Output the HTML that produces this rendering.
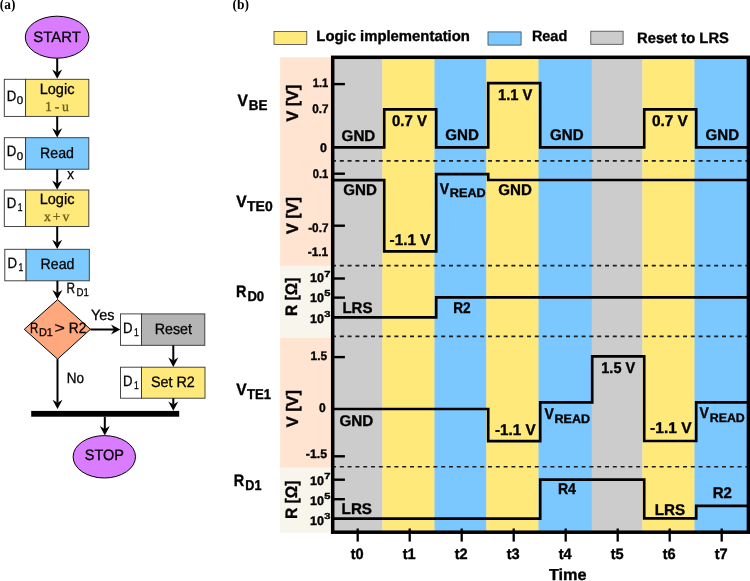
<!DOCTYPE html>
<html lang="en"><head><meta charset="utf-8"><title>Figure</title>
<style>html,body{margin:0;padding:0;background:#fff;}svg{display:block;}text{white-space:pre;text-rendering:geometricPrecision;}</style></head>
<body><svg width="750" height="581" viewBox="0 0 750 581">
<rect width="750" height="581" fill="#fff"/>
<rect x="280.10" y="57.30" width="52.90" height="208.60" fill="#ffe5d1"/>
<rect x="280.10" y="265.90" width="52.90" height="71.90" fill="#f7f5ec"/>
<rect x="280.10" y="337.80" width="52.90" height="130.00" fill="#ffe5d1"/>
<rect x="280.10" y="467.80" width="52.90" height="65.00" fill="#f7f5ec"/>
<rect x="332.00" y="57.00" width="50.60" height="476.00" fill="#cccccc"/>
<rect x="382.30" y="57.00" width="52.50" height="476.00" fill="#ffe97a"/>
<rect x="434.50" y="57.00" width="52.10" height="476.00" fill="#7ac8ff"/>
<rect x="486.30" y="57.00" width="52.50" height="476.00" fill="#ffe97a"/>
<rect x="538.50" y="57.00" width="53.50" height="476.00" fill="#7ac8ff"/>
<rect x="591.70" y="57.00" width="51.00" height="476.00" fill="#cccccc"/>
<rect x="642.40" y="57.00" width="52.40" height="476.00" fill="#ffe97a"/>
<rect x="694.50" y="57.00" width="54.80" height="476.00" fill="#7ac8ff"/>
<path d="M332.00 160.90 L748.00 160.90" fill="none" stroke="#1e1e1e" stroke-width="1.6" stroke-linejoin="miter" stroke-linecap="butt" stroke-dasharray="4 3.8"/>
<path d="M332.00 265.60 L748.00 265.60" fill="none" stroke="#1e1e1e" stroke-width="1.6" stroke-linejoin="miter" stroke-linecap="butt" stroke-dasharray="4 3.8"/>
<path d="M332.00 336.40 L748.00 336.40" fill="none" stroke="#1e1e1e" stroke-width="1.6" stroke-linejoin="miter" stroke-linecap="butt" stroke-dasharray="4 3.8"/>
<path d="M332.00 466.80 L748.00 466.80" fill="none" stroke="#1e1e1e" stroke-width="1.6" stroke-linejoin="miter" stroke-linecap="butt" stroke-dasharray="4 3.8"/>
<path d="M334.00 147.40 L384.20 147.40 L384.20 109.30 L436.20 109.30 L436.20 147.40 L488.20 147.40 L488.20 83.20 L540.20 83.20 L540.20 147.40 L592.20 147.40 L644.20 147.40 L644.20 109.30 L696.20 109.30 L696.20 147.40 L747.50 147.40" fill="none" stroke="#000" stroke-width="2.7" stroke-linejoin="miter" stroke-linecap="butt"/>
<path d="M334.00 180.20 L384.20 180.20 L384.20 251.40 L436.20 251.40 L436.20 174.20 L488.20 174.20 L488.20 180.00 L540.20 180.00 L592.20 180.00 L644.20 180.00 L696.20 180.00 L747.50 180.00" fill="none" stroke="#000" stroke-width="2.7" stroke-linejoin="miter" stroke-linecap="butt"/>
<path d="M334.00 317.40 L384.20 317.40 L436.20 317.40 L436.20 297.30 L488.20 297.30 L540.20 297.30 L592.20 297.30 L644.20 297.30 L696.20 297.30 L747.50 297.30" fill="none" stroke="#000" stroke-width="2.7" stroke-linejoin="miter" stroke-linecap="butt"/>
<path d="M334.00 409.00 L384.20 409.00 L436.20 409.00 L488.20 409.00 L488.20 441.20 L540.20 441.20 L540.20 402.30 L592.20 402.30 L592.20 356.40 L644.20 356.40 L644.20 441.00 L696.20 441.00 L696.20 402.40 L747.50 402.40" fill="none" stroke="#000" stroke-width="2.7" stroke-linejoin="miter" stroke-linecap="butt"/>
<path d="M334.00 518.70 L384.20 518.70 L436.20 518.70 L488.20 518.70 L540.20 518.70 L540.20 479.60 L592.20 479.60 L644.20 479.60 L644.20 518.40 L696.20 518.40 L696.20 505.80 L747.50 505.80" fill="none" stroke="#000" stroke-width="2.7" stroke-linejoin="miter" stroke-linecap="butt"/>
<path d="M334.00 84.10 L344.90 84.10" fill="none" stroke="#000" stroke-width="2.4" stroke-linejoin="miter" stroke-linecap="butt"/>
<path d="M334.00 173.70 L344.90 173.70" fill="none" stroke="#000" stroke-width="2.4" stroke-linejoin="miter" stroke-linecap="butt"/>
<path d="M334.00 225.70 L344.90 225.70" fill="none" stroke="#000" stroke-width="2.4" stroke-linejoin="miter" stroke-linecap="butt"/>
<path d="M334.00 278.50 L344.90 278.50" fill="none" stroke="#000" stroke-width="2.4" stroke-linejoin="miter" stroke-linecap="butt"/>
<path d="M334.00 297.60 L344.90 297.60" fill="none" stroke="#000" stroke-width="2.4" stroke-linejoin="miter" stroke-linecap="butt"/>
<path d="M334.00 357.10 L344.90 357.10" fill="none" stroke="#000" stroke-width="2.4" stroke-linejoin="miter" stroke-linecap="butt"/>
<path d="M334.00 456.30 L344.90 456.30" fill="none" stroke="#000" stroke-width="2.4" stroke-linejoin="miter" stroke-linecap="butt"/>
<path d="M334.00 479.70 L344.90 479.70" fill="none" stroke="#000" stroke-width="2.4" stroke-linejoin="miter" stroke-linecap="butt"/>
<path d="M334.00 499.20 L344.90 499.20" fill="none" stroke="#000" stroke-width="2.4" stroke-linejoin="miter" stroke-linecap="butt"/>
<path d="M357.70 528.50 L357.70 541.60" fill="none" stroke="#000" stroke-width="2.3" stroke-linejoin="miter" stroke-linecap="butt"/>
<path d="M409.70 528.50 L409.70 541.60" fill="none" stroke="#000" stroke-width="2.3" stroke-linejoin="miter" stroke-linecap="butt"/>
<path d="M461.70 528.50 L461.70 541.60" fill="none" stroke="#000" stroke-width="2.3" stroke-linejoin="miter" stroke-linecap="butt"/>
<path d="M513.70 528.50 L513.70 541.60" fill="none" stroke="#000" stroke-width="2.3" stroke-linejoin="miter" stroke-linecap="butt"/>
<path d="M565.70 528.50 L565.70 541.60" fill="none" stroke="#000" stroke-width="2.3" stroke-linejoin="miter" stroke-linecap="butt"/>
<path d="M617.70 528.50 L617.70 541.60" fill="none" stroke="#000" stroke-width="2.3" stroke-linejoin="miter" stroke-linecap="butt"/>
<path d="M669.70 528.50 L669.70 541.60" fill="none" stroke="#000" stroke-width="2.3" stroke-linejoin="miter" stroke-linecap="butt"/>
<path d="M721.70 528.50 L721.70 541.60" fill="none" stroke="#000" stroke-width="2.3" stroke-linejoin="miter" stroke-linecap="butt"/>
<rect x="332.7" y="57.3" width="415.7" height="474.90000000000003" fill="none" stroke="#000" stroke-width="3.5"/>
<text transform="translate(350.70,558.70) scale(0.9751,1)" font-family='"Liberation Sans", sans-serif' font-size="14.98" font-weight="bold" fill="#000" stroke="#000" stroke-width="0.35">t0</text>
<text transform="translate(402.70,558.70) scale(0.9751,1)" font-family='"Liberation Sans", sans-serif' font-size="14.98" font-weight="bold" fill="#000" stroke="#000" stroke-width="0.35">t1</text>
<text transform="translate(454.70,558.70) scale(0.9751,1)" font-family='"Liberation Sans", sans-serif' font-size="14.98" font-weight="bold" fill="#000" stroke="#000" stroke-width="0.35">t2</text>
<text transform="translate(506.70,558.70) scale(0.9751,1)" font-family='"Liberation Sans", sans-serif' font-size="14.98" font-weight="bold" fill="#000" stroke="#000" stroke-width="0.35">t3</text>
<text transform="translate(558.70,558.70) scale(0.9751,1)" font-family='"Liberation Sans", sans-serif' font-size="14.98" font-weight="bold" fill="#000" stroke="#000" stroke-width="0.35">t4</text>
<text transform="translate(610.70,558.70) scale(0.9751,1)" font-family='"Liberation Sans", sans-serif' font-size="14.98" font-weight="bold" fill="#000" stroke="#000" stroke-width="0.35">t5</text>
<text transform="translate(662.70,558.70) scale(0.9751,1)" font-family='"Liberation Sans", sans-serif' font-size="14.98" font-weight="bold" fill="#000" stroke="#000" stroke-width="0.35">t6</text>
<text transform="translate(714.70,558.70) scale(0.9751,1)" font-family='"Liberation Sans", sans-serif' font-size="14.98" font-weight="bold" fill="#000" stroke="#000" stroke-width="0.35">t7</text>
<text transform="translate(548.90,579.60) scale(1.0236,1)" font-family='"Liberation Sans", sans-serif' font-size="15.91" font-weight="bold" fill="#000" stroke="#000" stroke-width="0.35">Time</text>
<text transform="translate(312.70,86.90) scale(0.8935,1)" font-family='"Liberation Sans", sans-serif' font-size="12.48" font-weight="bold" fill="#000" stroke="#000" stroke-width="0.35">1.1</text>
<text transform="translate(312.20,113.00) scale(0.9396,1)" font-family='"Liberation Sans", sans-serif' font-size="12.48" font-weight="bold" fill="#000" stroke="#000" stroke-width="0.35">0.7</text>
<text transform="translate(320.00,152.00) scale(0.9962,1)" font-family='"Liberation Sans", sans-serif' font-size="12.48" font-weight="bold" fill="#000" stroke="#000" stroke-width="0.35">0</text>
<text transform="translate(312.70,177.80) scale(0.8935,1)" font-family='"Liberation Sans", sans-serif' font-size="12.48" font-weight="bold" fill="#000" stroke="#000" stroke-width="0.35">0.1</text>
<text transform="translate(308.20,231.70) scale(0.9430,1)" font-family='"Liberation Sans", sans-serif' font-size="12.48" font-weight="bold" fill="#000" stroke="#000" stroke-width="0.35">-0.7</text>
<text transform="translate(307.70,256.00) scale(0.9522,1)" font-family='"Liberation Sans", sans-serif' font-size="12.48" font-weight="bold" fill="#000" stroke="#000" stroke-width="0.35">-1.1</text>
<text transform="translate(310.00,282.40) scale(1.0034,1)" font-family='"Liberation Sans", sans-serif' font-size="12.48" font-weight="bold" fill="#000" stroke="#000" stroke-width="0.35">10</text>
<text transform="translate(310.00,301.60) scale(1.0034,1)" font-family='"Liberation Sans", sans-serif' font-size="12.48" font-weight="bold" fill="#000" stroke="#000" stroke-width="0.35">10</text>
<text transform="translate(310.00,322.60) scale(1.0034,1)" font-family='"Liberation Sans", sans-serif' font-size="12.48" font-weight="bold" fill="#000" stroke="#000" stroke-width="0.35">10</text>
<text transform="translate(310.00,484.50) scale(1.0034,1)" font-family='"Liberation Sans", sans-serif' font-size="12.48" font-weight="bold" fill="#000" stroke="#000" stroke-width="0.35">10</text>
<text transform="translate(310.00,504.50) scale(1.0034,1)" font-family='"Liberation Sans", sans-serif' font-size="12.48" font-weight="bold" fill="#000" stroke="#000" stroke-width="0.35">10</text>
<text transform="translate(310.00,524.50) scale(1.0034,1)" font-family='"Liberation Sans", sans-serif' font-size="12.48" font-weight="bold" fill="#000" stroke="#000" stroke-width="0.35">10</text>
<text transform="translate(324.30,276.90) scale(1.2782,1)" font-family='"Liberation Sans", sans-serif' font-size="8.74" font-weight="bold" fill="#000" stroke="#000" stroke-width="0.35">7</text>
<text transform="translate(324.30,296.10) scale(1.2782,1)" font-family='"Liberation Sans", sans-serif' font-size="8.74" font-weight="bold" fill="#000" stroke="#000" stroke-width="0.35">5</text>
<text transform="translate(324.30,317.10) scale(1.2782,1)" font-family='"Liberation Sans", sans-serif' font-size="8.74" font-weight="bold" fill="#000" stroke="#000" stroke-width="0.35">3</text>
<text transform="translate(324.30,479.20) scale(1.2782,1)" font-family='"Liberation Sans", sans-serif' font-size="8.74" font-weight="bold" fill="#000" stroke="#000" stroke-width="0.35">7</text>
<text transform="translate(324.30,499.20) scale(1.2782,1)" font-family='"Liberation Sans", sans-serif' font-size="8.74" font-weight="bold" fill="#000" stroke="#000" stroke-width="0.35">5</text>
<text transform="translate(324.30,519.20) scale(1.2782,1)" font-family='"Liberation Sans", sans-serif' font-size="8.74" font-weight="bold" fill="#000" stroke="#000" stroke-width="0.35">3</text>
<text transform="translate(310.60,360.00) scale(0.9512,1)" font-family='"Liberation Sans", sans-serif' font-size="12.48" font-weight="bold" fill="#000" stroke="#000" stroke-width="0.35">1.5</text>
<text transform="translate(319.10,411.70) scale(0.9673,1)" font-family='"Liberation Sans", sans-serif' font-size="12.48" font-weight="bold" fill="#000" stroke="#000" stroke-width="0.35">0</text>
<text transform="translate(305.80,458.10) scale(0.9894,1)" font-family='"Liberation Sans", sans-serif' font-size="12.48" font-weight="bold" fill="#000" stroke="#000" stroke-width="0.35">-1.5</text>
<text transform="translate(297.90,121.60) rotate(-90) scale(0.9700,1)" font-family='"Liberation Sans", sans-serif' font-size="16.64" font-weight="bold" fill="#000" stroke="#000" stroke-width="0.35">V [V]</text>
<text transform="translate(297.90,233.90) rotate(-90) scale(0.9700,1)" font-family='"Liberation Sans", sans-serif' font-size="16.64" font-weight="bold" fill="#000" stroke="#000" stroke-width="0.35">V [V]</text>
<text transform="translate(297.20,316.00) rotate(-90) scale(0.9343,1)" font-family='"Liberation Sans", sans-serif' font-size="16.64" font-weight="bold" fill="#000" stroke="#000" stroke-width="0.35">R [Ω]</text>
<text transform="translate(297.90,427.20) rotate(-90) scale(0.9779,1)" font-family='"Liberation Sans", sans-serif' font-size="16.64" font-weight="bold" fill="#000" stroke="#000" stroke-width="0.35">V [V]</text>
<text transform="translate(297.20,519.00) rotate(-90) scale(0.9367,1)" font-family='"Liberation Sans", sans-serif' font-size="16.64" font-weight="bold" fill="#000" stroke="#000" stroke-width="0.35">R [Ω]</text>
<text transform="translate(237.50,106.10) scale(0.9398,1)" font-family='"Liberation Sans", sans-serif' font-size="16.64" font-weight="bold" fill="#000" stroke="#000" stroke-width="0.35">V</text>
<text transform="translate(248.70,109.90) scale(0.9514,1)" font-family='"Liberation Sans", sans-serif' font-size="14.14" font-weight="bold" fill="#000" stroke="#000" stroke-width="0.35">BE</text>
<text transform="translate(236.20,207.20) scale(0.9398,1)" font-family='"Liberation Sans", sans-serif' font-size="16.64" font-weight="bold" fill="#000" stroke="#000" stroke-width="0.35">V</text>
<text transform="translate(247.10,211.20) scale(0.9866,1)" font-family='"Liberation Sans", sans-serif' font-size="14.14" font-weight="bold" fill="#000" stroke="#000" stroke-width="0.35">TE0</text>
<text transform="translate(235.90,296.80) scale(0.8681,1)" font-family='"Liberation Sans", sans-serif' font-size="16.64" font-weight="bold" fill="#000" stroke="#000" stroke-width="0.35">R</text>
<text transform="translate(247.40,300.80) scale(0.9282,1)" font-family='"Liberation Sans", sans-serif' font-size="14.14" font-weight="bold" fill="#000" stroke="#000" stroke-width="0.35">D0</text>
<text transform="translate(236.20,394.90) scale(0.9398,1)" font-family='"Liberation Sans", sans-serif' font-size="16.64" font-weight="bold" fill="#000" stroke="#000" stroke-width="0.35">V</text>
<text transform="translate(247.10,398.90) scale(0.9250,1)" font-family='"Liberation Sans", sans-serif' font-size="14.14" font-weight="bold" fill="#000" stroke="#000" stroke-width="0.35">TE1</text>
<text transform="translate(233.80,486.40) scale(0.8681,1)" font-family='"Liberation Sans", sans-serif' font-size="16.64" font-weight="bold" fill="#000" stroke="#000" stroke-width="0.35">R</text>
<text transform="translate(245.30,490.40) scale(0.8951,1)" font-family='"Liberation Sans", sans-serif' font-size="14.14" font-weight="bold" fill="#000" stroke="#000" stroke-width="0.35">D1</text>
<rect x="274.00" y="31.40" width="32.80" height="13.10" fill="#ffe97a" stroke="#444" stroke-width="0.8"/>
<rect x="488.00" y="31.90" width="33.10" height="13.20" fill="#7ac8ff" stroke="#444" stroke-width="0.8"/>
<rect x="590.80" y="31.20" width="32.30" height="13.10" fill="#cccccc" stroke="#444" stroke-width="0.8"/>
<text transform="translate(316.30,40.90) scale(0.9856,1)" font-family='"Liberation Sans", sans-serif' font-size="15.08" font-weight="bold" fill="#000" stroke="#000" stroke-width="0.35">Logic implementation</text>
<text transform="translate(531.90,40.90) scale(0.9574,1)" font-family='"Liberation Sans", sans-serif' font-size="15.08" font-weight="bold" fill="#000" stroke="#000" stroke-width="0.35">Read</text>
<text transform="translate(637.10,43.30) scale(0.9779,1)" font-family='"Liberation Sans", sans-serif' font-size="15.08" font-weight="bold" fill="#000" stroke="#000" stroke-width="0.35">Reset to LRS</text>
<text transform="translate(341.60,140.60) scale(0.9794,1)" font-family='"Liberation Sans", sans-serif' font-size="15.5" font-weight="bold" fill="#000" stroke="#000" stroke-width="0.35">GND</text>
<text transform="translate(392.00,126.00) scale(0.9643,1)" font-family='"Liberation Sans", sans-serif' font-size="15.5" font-weight="bold" fill="#000" stroke="#000" stroke-width="0.35">0.7 V</text>
<text transform="translate(445.20,140.20) scale(0.9765,1)" font-family='"Liberation Sans", sans-serif' font-size="15.5" font-weight="bold" fill="#000" stroke="#000" stroke-width="0.35">GND</text>
<text transform="translate(498.00,99.90) scale(0.9505,1)" font-family='"Liberation Sans", sans-serif' font-size="15.5" font-weight="bold" fill="#000" stroke="#000" stroke-width="0.35">1.1 V</text>
<text transform="translate(550.10,140.00) scale(0.9736,1)" font-family='"Liberation Sans", sans-serif' font-size="15.5" font-weight="bold" fill="#000" stroke="#000" stroke-width="0.35">GND</text>
<text transform="translate(651.90,126.40) scale(0.9947,1)" font-family='"Liberation Sans", sans-serif' font-size="15.5" font-weight="bold" fill="#000" stroke="#000" stroke-width="0.35">0.7 V</text>
<text transform="translate(705.50,140.00) scale(0.9736,1)" font-family='"Liberation Sans", sans-serif' font-size="15.5" font-weight="bold" fill="#000" stroke="#000" stroke-width="0.35">GND</text>
<text transform="translate(343.20,194.80) scale(0.9765,1)" font-family='"Liberation Sans", sans-serif' font-size="15.5" font-weight="bold" fill="#000" stroke="#000" stroke-width="0.35">GND</text>
<text transform="translate(389.60,244.90) scale(0.9859,1)" font-family='"Liberation Sans", sans-serif' font-size="15.5" font-weight="bold" fill="#000" stroke="#000" stroke-width="0.35">-1.1 V</text>
<text transform="translate(439.70,193.50) scale(0.9023,1)" font-family='"Liberation Sans", sans-serif' font-size="15.5" font-weight="bold" fill="#000" stroke="#000" stroke-width="0.35">V</text>
<text transform="translate(449.80,196.90) scale(1.0175,1)" font-family='"Liberation Sans", sans-serif' font-size="12.48" font-weight="bold" fill="#000" stroke="#000" stroke-width="0.35">READ</text>
<text transform="translate(498.30,194.50) scale(0.9765,1)" font-family='"Liberation Sans", sans-serif' font-size="15.5" font-weight="bold" fill="#000" stroke="#000" stroke-width="0.35">GND</text>
<text transform="translate(342.40,312.80) scale(0.9710,1)" font-family='"Liberation Sans", sans-serif' font-size="15.5" font-weight="bold" fill="#000" stroke="#000" stroke-width="0.35">LRS</text>
<text transform="translate(453.20,312.80) scale(0.8821,1)" font-family='"Liberation Sans", sans-serif' font-size="15.5" font-weight="bold" fill="#000" stroke="#000" stroke-width="0.35">R2</text>
<text transform="translate(339.50,426.10) scale(0.9823,1)" font-family='"Liberation Sans", sans-serif' font-size="15.5" font-weight="bold" fill="#000" stroke="#000" stroke-width="0.35">GND</text>
<text transform="translate(494.90,435.00) scale(0.9834,1)" font-family='"Liberation Sans", sans-serif' font-size="15.5" font-weight="bold" fill="#000" stroke="#000" stroke-width="0.35">-1.1 V</text>
<text transform="translate(544.40,419.30) scale(0.9023,1)" font-family='"Liberation Sans", sans-serif' font-size="15.5" font-weight="bold" fill="#000" stroke="#000" stroke-width="0.35">V</text>
<text transform="translate(554.50,422.50) scale(1.0062,1)" font-family='"Liberation Sans", sans-serif' font-size="12.48" font-weight="bold" fill="#000" stroke="#000" stroke-width="0.35">READ</text>
<text transform="translate(601.30,373.00) scale(0.9367,1)" font-family='"Liberation Sans", sans-serif' font-size="15.5" font-weight="bold" fill="#000" stroke="#000" stroke-width="0.35">1.5 V</text>
<text transform="translate(650.10,432.70) scale(1.0028,1)" font-family='"Liberation Sans", sans-serif' font-size="15.5" font-weight="bold" fill="#000" stroke="#000" stroke-width="0.35">-1.1 V</text>
<text transform="translate(699.60,418.40) scale(0.9023,1)" font-family='"Liberation Sans", sans-serif' font-size="15.5" font-weight="bold" fill="#000" stroke="#000" stroke-width="0.35">V</text>
<text transform="translate(709.70,421.80) scale(0.9921,1)" font-family='"Liberation Sans", sans-serif' font-size="12.48" font-weight="bold" fill="#000" stroke="#000" stroke-width="0.35">READ</text>
<text transform="translate(341.60,514.40) scale(0.9806,1)" font-family='"Liberation Sans", sans-serif' font-size="15.5" font-weight="bold" fill="#000" stroke="#000" stroke-width="0.35">LRS</text>
<text transform="translate(557.90,494.20) scale(0.9123,1)" font-family='"Liberation Sans", sans-serif' font-size="15.5" font-weight="bold" fill="#000" stroke="#000" stroke-width="0.35">R4</text>
<text transform="translate(654.80,514.70) scale(0.9806,1)" font-family='"Liberation Sans", sans-serif' font-size="15.5" font-weight="bold" fill="#000" stroke="#000" stroke-width="0.35">LRS</text>
<text transform="translate(712.70,498.40) scale(0.9728,1)" font-family='"Liberation Sans", sans-serif' font-size="15.5" font-weight="bold" fill="#000" stroke="#000" stroke-width="0.35">R2</text>
<text transform="translate(-0.20,9.30) scale(0.9113,1)" font-family='"Liberation Serif", serif' font-size="14.6" font-weight="bold" fill="#000">(a)</text>
<text transform="translate(232.60,9.10) scale(0.9207,1)" font-family='"Liberation Serif", serif' font-size="14.6" font-weight="bold" fill="#000">(b)</text>
<ellipse cx="57.1" cy="37.2" rx="31.8" ry="21.0" fill="#da7cff" stroke="#000" stroke-width="1"/>
<text transform="translate(33.30,41.60) scale(0.9890,1)" font-family='"Liberation Sans", sans-serif' font-size="15.08" font-weight="normal" fill="#000" stroke="#000" stroke-width="0.3">START</text>
<path d="M57.20 58.40 L57.20 72.50" fill="none" stroke="#000" stroke-width="2.0" stroke-linejoin="miter" stroke-linecap="butt"/>
<path d="M57.20 78.80 L52.20 69.50 L57.20 72.50 L62.20 69.50Z" fill="#000"/>
<rect x="4.30" y="79.30" width="21.30" height="37.10" fill="#fff" stroke="#333" stroke-width="0.9"/>
<rect x="25.60" y="79.30" width="63.20" height="37.10" fill="#ffe97a" stroke="#333" stroke-width="0.9"/>
<text transform="translate(6.70,101.20) scale(0.8750,1)" font-family='"Liberation Sans", sans-serif' font-size="15.08" font-weight="normal" fill="#000" stroke="#000" stroke-width="0.3">D</text>
<text transform="translate(16.80,104.40) scale(1.0269,1)" font-family='"Liberation Sans", sans-serif' font-size="11.23" font-weight="normal" fill="#000" stroke="#000" stroke-width="0.3">0</text>
<text transform="translate(39.70,93.70) scale(0.9628,1)" font-family='"Liberation Sans", sans-serif' font-size="15.08" font-weight="normal" fill="#000" stroke="#000" stroke-width="0.3">Logic</text>
<text x="44.90" y="111.20" font-family='"Liberation Serif", serif' font-size="13.8" letter-spacing="2.84" fill="#6e5d1c" stroke="#6e5d1c" stroke-width="0.35">1-u</text>
<path d="M57.20 116.40 L57.20 131.30" fill="none" stroke="#000" stroke-width="2.0" stroke-linejoin="miter" stroke-linecap="butt"/>
<path d="M57.20 137.60 L52.20 128.30 L57.20 131.30 L62.20 128.30Z" fill="#000"/>
<rect x="4.30" y="137.70" width="21.30" height="31.50" fill="#fff" stroke="#333" stroke-width="0.9"/>
<rect x="25.60" y="137.70" width="63.20" height="31.50" fill="#7dcaff" stroke="#333" stroke-width="0.9"/>
<text transform="translate(6.70,156.40) scale(0.8750,1)" font-family='"Liberation Sans", sans-serif' font-size="15.08" font-weight="normal" fill="#000" stroke="#000" stroke-width="0.3">D</text>
<text transform="translate(16.80,159.60) scale(1.0269,1)" font-family='"Liberation Sans", sans-serif' font-size="11.23" font-weight="normal" fill="#000" stroke="#000" stroke-width="0.3">0</text>
<text transform="translate(40.00,157.50) scale(0.9406,1)" font-family='"Liberation Sans", sans-serif' font-size="15.08" font-weight="normal" fill="#000" stroke="#000" stroke-width="0.3">Read</text>
<path d="M57.20 169.20 L57.20 183.50" fill="none" stroke="#000" stroke-width="2.0" stroke-linejoin="miter" stroke-linecap="butt"/>
<path d="M57.20 189.80 L52.20 180.50 L57.20 183.50 L62.20 180.50Z" fill="#000"/>
<text transform="translate(67.20,179.30) scale(0.8886,1)" font-family='"Liberation Sans", sans-serif' font-size="15.08" font-weight="normal" fill="#000" stroke="#000" stroke-width="0.3">x</text>
<rect x="4.30" y="190.00" width="21.30" height="36.50" fill="#fff" stroke="#333" stroke-width="0.9"/>
<rect x="25.60" y="190.00" width="63.20" height="36.50" fill="#ffe97a" stroke="#333" stroke-width="0.9"/>
<text transform="translate(6.70,208.00) scale(0.8750,1)" font-family='"Liberation Sans", sans-serif' font-size="15.08" font-weight="normal" fill="#000" stroke="#000" stroke-width="0.3">D</text>
<text transform="translate(17.80,211.20) scale(0.7701,1)" font-family='"Liberation Sans", sans-serif' font-size="11.23" font-weight="normal" fill="#000" stroke="#000" stroke-width="0.3">1</text>
<text transform="translate(39.70,203.70) scale(0.9628,1)" font-family='"Liberation Sans", sans-serif' font-size="15.08" font-weight="normal" fill="#000" stroke="#000" stroke-width="0.3">Logic</text>
<text x="43.90" y="221.40" font-family='"Liberation Serif", serif' font-size="13.8" letter-spacing="2.00" fill="#6e5d1c" stroke="#6e5d1c" stroke-width="0.35">x+v</text>
<path d="M57.20 226.50 L57.20 242.70" fill="none" stroke="#000" stroke-width="2.0" stroke-linejoin="miter" stroke-linecap="butt"/>
<path d="M57.20 249.00 L52.20 239.70 L57.20 242.70 L62.20 239.70Z" fill="#000"/>
<rect x="4.80" y="249.30" width="21.30" height="31.50" fill="#fff" stroke="#333" stroke-width="0.9"/>
<rect x="26.10" y="249.30" width="63.20" height="31.50" fill="#7dcaff" stroke="#333" stroke-width="0.9"/>
<text transform="translate(7.40,267.80) scale(0.8750,1)" font-family='"Liberation Sans", sans-serif' font-size="15.08" font-weight="normal" fill="#000" stroke="#000" stroke-width="0.3">D</text>
<text transform="translate(18.50,271.00) scale(0.7701,1)" font-family='"Liberation Sans", sans-serif' font-size="11.23" font-weight="normal" fill="#000" stroke="#000" stroke-width="0.3">1</text>
<text transform="translate(40.60,268.90) scale(0.9406,1)" font-family='"Liberation Sans", sans-serif' font-size="15.08" font-weight="normal" fill="#000" stroke="#000" stroke-width="0.3">Read</text>
<path d="M57.40 280.80 L57.40 292.90" fill="none" stroke="#000" stroke-width="2.0" stroke-linejoin="miter" stroke-linecap="butt"/>
<path d="M57.40 299.20 L52.40 289.90 L57.40 292.90 L62.40 289.90Z" fill="#000"/>
<text transform="translate(66.40,292.50) scale(0.7829,1)" font-family='"Liberation Sans", sans-serif' font-size="15.08" font-weight="normal" fill="#000" stroke="#000" stroke-width="0.3">R</text>
<text transform="translate(76.50,295.70) scale(0.8400,1)" font-family='"Liberation Sans", sans-serif' font-size="11.44" font-weight="normal" fill="#000" stroke="#000" stroke-width="0.3">D1</text>
<path d="M57.6 299.6 L90.4 329.3 L57.6 359.1 L24.3 329.3Z" fill="#ffa77d" stroke="#000" stroke-width="1"/>
<text transform="translate(30.10,333.10) scale(0.7644,1)" font-family='"Liberation Sans", sans-serif' font-size="15.08" font-weight="normal" fill="#000" stroke="#000" stroke-width="0.3">R</text>
<text transform="translate(38.90,336.30) scale(0.9492,1)" font-family='"Liberation Sans", sans-serif' font-size="11.44" font-weight="normal" fill="#000" stroke="#000" stroke-width="0.3">D1</text>
<text transform="translate(54.40,333.10) scale(1.1789,1)" font-family='"Liberation Sans", sans-serif' font-size="15.08" font-weight="normal" fill="#000" stroke="#000" stroke-width="0.3">&gt;</text>
<text transform="translate(68.80,333.10) scale(0.9118,1)" font-family='"Liberation Sans", sans-serif' font-size="15.08" font-weight="normal" fill="#000" stroke="#000" stroke-width="0.3">R2</text>
<text transform="translate(90.90,319.90) scale(0.9560,1)" font-family='"Liberation Sans", sans-serif' font-size="15.08" font-weight="normal" fill="#000" stroke="#000" stroke-width="0.3">Yes</text>
<path d="M90.40 329.50 L114.00 329.50" fill="none" stroke="#000" stroke-width="2.0" stroke-linejoin="miter" stroke-linecap="butt"/>
<path d="M120.30 329.50 L111.00 334.50 L114.00 329.50 L111.00 324.50Z" fill="#000"/>
<rect x="120.50" y="313.90" width="21.00" height="31.40" fill="#fff" stroke="#333" stroke-width="0.9"/>
<rect x="141.50" y="313.90" width="63.30" height="31.40" fill="#b4b4b4" stroke="#333" stroke-width="0.9"/>
<text transform="translate(122.90,332.80) scale(0.8750,1)" font-family='"Liberation Sans", sans-serif' font-size="15.08" font-weight="normal" fill="#000" stroke="#000" stroke-width="0.3">D</text>
<text transform="translate(134.00,336.00) scale(0.7701,1)" font-family='"Liberation Sans", sans-serif' font-size="11.23" font-weight="normal" fill="#000" stroke="#000" stroke-width="0.3">1</text>
<text transform="translate(154.70,333.90) scale(0.9477,1)" font-family='"Liberation Sans", sans-serif' font-size="15.08" font-weight="normal" fill="#000" stroke="#000" stroke-width="0.3">Reset</text>
<path d="M173.30 345.30 L173.30 360.60" fill="none" stroke="#000" stroke-width="2.0" stroke-linejoin="miter" stroke-linecap="butt"/>
<path d="M173.30 366.90 L168.30 357.60 L173.30 360.60 L178.30 357.60Z" fill="#000"/>
<rect x="120.50" y="367.20" width="21.00" height="31.00" fill="#fff" stroke="#333" stroke-width="0.9"/>
<rect x="141.50" y="367.20" width="63.50" height="31.00" fill="#ffe97a" stroke="#333" stroke-width="0.9"/>
<text transform="translate(122.90,385.60) scale(0.8750,1)" font-family='"Liberation Sans", sans-serif' font-size="15.08" font-weight="normal" fill="#000" stroke="#000" stroke-width="0.3">D</text>
<text transform="translate(134.00,388.80) scale(0.7701,1)" font-family='"Liberation Sans", sans-serif' font-size="11.23" font-weight="normal" fill="#000" stroke="#000" stroke-width="0.3">1</text>
<text transform="translate(150.90,386.70) scale(0.9529,1)" font-family='"Liberation Sans", sans-serif' font-size="15.08" font-weight="normal" fill="#000" stroke="#000" stroke-width="0.3">Set R2</text>
<path d="M173.30 398.20 L173.30 404.50" fill="none" stroke="#000" stroke-width="2.0" stroke-linejoin="miter" stroke-linecap="butt"/>
<path d="M173.30 410.80 L168.30 401.50 L173.30 404.50 L178.30 401.50Z" fill="#000"/>
<path d="M57.50 359.10 L57.50 402.70" fill="none" stroke="#000" stroke-width="2.0" stroke-linejoin="miter" stroke-linecap="butt"/>
<path d="M57.50 409.00 L52.50 399.70 L57.50 402.70 L62.50 399.70Z" fill="#000"/>
<text transform="translate(66.70,382.50) scale(0.8963,1)" font-family='"Liberation Sans", sans-serif' font-size="15.08" font-weight="normal" fill="#000" stroke="#000" stroke-width="0.3">No</text>
<rect x="31.20" y="410.90" width="148.00" height="5.80" fill="#000"/>
<path d="M104.80 416.70 L104.80 429.10" fill="none" stroke="#000" stroke-width="2.0" stroke-linejoin="miter" stroke-linecap="butt"/>
<path d="M104.80 435.40 L99.80 426.10 L104.80 429.10 L109.80 426.10Z" fill="#000"/>
<ellipse cx="104.3" cy="456.8" rx="31.2" ry="21.2" fill="#da7cff" stroke="#000" stroke-width="1"/>
<text transform="translate(84.80,460.40) scale(0.9610,1)" font-family='"Liberation Sans", sans-serif' font-size="15.08" font-weight="normal" fill="#000" stroke="#000" stroke-width="0.3">STOP</text>
</svg></body></html>
